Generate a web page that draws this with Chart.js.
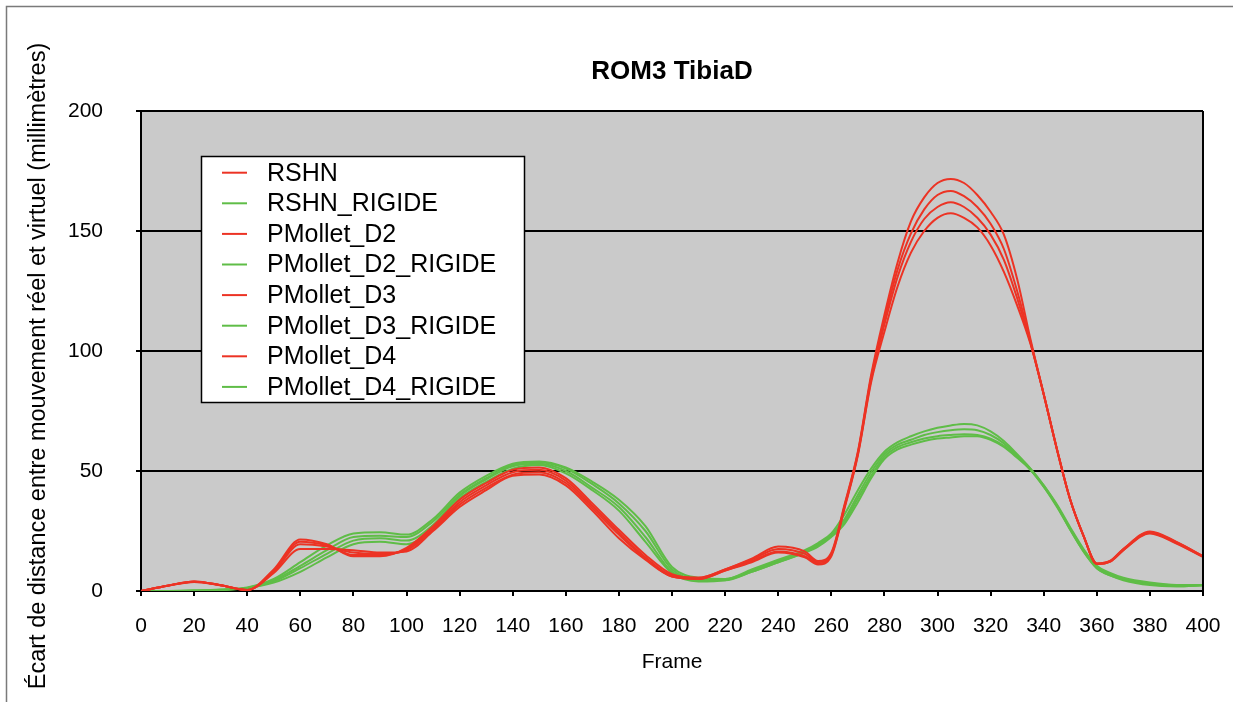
<!DOCTYPE html>
<html lang="fr">
<head>
<meta charset="utf-8">
<title>ROM3 TibiaD</title>
<script src="https://cdn.jsdelivr.net/npm/chart.js@4/dist/chart.umd.min.js"></script>
<style>
  html, body { margin:0; padding:0; background:#ffffff; }
  #romChart { display:block; }
</style>
</head>
<body>
<canvas id="romChart" width="1233" height="702"></canvas>
<script>
/* =========================================================
   DATA
========================================================= */

const frames = [
  0,10,20,30,40,50,60,70,80,90,100,110,120,130,140,150,160,170,180,190,
  200,210,220,230,240,250,255,260,265,270,275,280,285,290,295,300,305,
  310,315,320,325,330,335,340,345,350,355,360,365,370,380,390,400
];

const rshn = [
  0,2.2,4,2.4,0.4,9,21.5,19.5,14.5,14.5,18,27,38,45,50.5,51.5,47,36.5,25.5,15,
  7,5.5,9,13.5,18.5,16.5,12.5,16,36,58,90,115,137,154,164,170,171.7,
  170,165,158,148.5,130,105,82,59,38,23,11.5,12.5,17.5,24.8,20.5,14.5
];

const rshnRigide = [
  0,0,0.2,0.6,1.5,5,12,19,24,24.5,23.5,30,41,48,53,54,51.5,45.5,38,27,
  10,5.5,5,9,13,17,20,24,32,42,51,58,62,64.5,66.5,68,69,
  69.6,69,66.5,62.5,57,51,44,36,26.5,17.5,10.5,7.5,5.5,3.5,2.5,2.5
];

const d2 = [
  0,2.2,4,2.4,0.4,8.5,20.5,19,15,15,17.5,26,37,44,49.5,50.5,46,35.5,24.5,14,
  6.5,5.5,9,13,17.5,15.5,12,15.5,35.5,57.5,89,113,134,149,159,165,166.7,
  164.5,160,153,142.5,125,104,82,59,38,23,11.5,12.5,17.5,24.5,20.3,14.5
];

const d2Rigide = [
  0,0,0.2,0.5,1.3,4.5,10.5,17,22.5,23,22.5,29,40,47,52.5,53.5,51,44.5,36.5,25,
  9,5,5,8.5,12.5,16.5,19.5,23.5,30,40,49.5,57,61,63,65,66.2,67,
  67.4,67,65,61.5,56.5,51,44,35.5,26,17,10,7,5,3.2,2.3,2.5
];

const d3 = [
  0,2.2,3.9,2.4,0.4,8,19.5,18.5,16,15.5,17,25.5,36,43,48.5,49.5,45,34.5,23.5,13.5,
  6,5,8.5,12.5,16.5,14.5,11.5,15,35,57,88,111,131,145.5,155,160,162,
  160,155.5,148.5,138,122,103.5,82,59,38,23,11.2,12.2,17,24.3,20,14.3
];

const d3Rigide = [
  0,0,0.1,0.4,1.2,4,9.5,15.5,21,22,21,27.5,39.5,46.5,52,53,50,43,35,22.5,
  8,4.5,4.5,8,12,16,19,23,29,38.5,48,56,60,62,63.5,64.5,65,
  65.3,65,63.5,60.5,56,50.5,43.5,35.5,25.5,16.5,9.5,6.5,4.8,2.8,2,2.4
];

const d4 = [
  0,2.2,3.8,2.4,0.4,7.5,17.5,17.5,17,16,16.5,25,35,42,48,48.5,44,33.5,22,13,
  6,5,8.5,12,16,14,11,14.5,34.5,56.5,87,108,127,141,150,155.5,157.4,
  155.5,151.5,144,133,119,103,82,59,38,23,11.2,12.2,17,24,19.8,14.2
];

const d4Rigide = [
  0,0,0.1,0.4,1.2,3.5,8,14,19.5,20.5,19.5,26,38.5,45.5,51,52.5,49,42,33.5,20.5,
  7.5,4,4.5,8,12,16,18.5,22.5,28,37,47,55,59,61,62.5,63.5,64,
  64.5,64.5,63,60,55.5,50.5,43.5,35,25.5,16.5,9.5,6.5,4.5,2.5,2,2.4
];

const seriesNames = [
  "RSHN",
  "RSHN_RIGIDE",
  "PMollet_D2",
  "PMollet_D2_RIGIDE",
  "PMollet_D3",
  "PMollet_D3_RIGIDE",
  "PMollet_D4",
  "PMollet_D4_RIGIDE"
];

const seriesValues = [
  rshn, rshnRigide, d2, d2Rigide, d3, d3Rigide, d4, d4Rigide
];

const yTicks = [0,50,100,150,200];

/* =========================================================
   STYLE
========================================================= */

const RED = "#ec3324";
const GREEN = "#5fbd47";
const PLOT_BG = "#cacaca";
const FONT = "'Liberation Sans', Arial, Helvetica, sans-serif";

/* =========================================================
   PLUGINS
========================================================= */

// grey plot background + outer frame
const backdrop = {
  id:"backdrop",
  beforeDraw(chart){
    const { ctx, chartArea:a } = chart;
    ctx.save();
    ctx.fillStyle = "#ffffff";
    ctx.fillRect(0,0,chart.width,chart.height);

    ctx.strokeStyle = "#7a7a7a";
    ctx.lineWidth = 1.5;
    ctx.beginPath();
    ctx.moveTo(6.5,chart.height);
    ctx.lineTo(6.5,6.5);
    ctx.lineTo(chart.width,6.5);
    ctx.stroke();

    ctx.fillStyle = PLOT_BG;
    ctx.fillRect(a.left,a.top,a.right-a.left,a.bottom-a.top);
    ctx.restore();
  }
};

// right border, titles and the boxed legend
const overlay = {
  id:"overlay",
  afterDraw(chart){
    const { ctx, chartArea:a } = chart;
    ctx.save();

    ctx.strokeStyle = "#000000";
    ctx.lineWidth = 2;
    ctx.beginPath();
    ctx.moveTo(a.right,a.top);
    ctx.lineTo(a.right,a.bottom);
    ctx.stroke();

    ctx.fillStyle = "#000000";
    ctx.textAlign = "center";
    ctx.textBaseline = "middle";

    ctx.font = "bold 26px " + FONT;
    ctx.fillText("ROM3 TibiaD",(a.left+a.right)/2,72);

    ctx.font = "21px " + FONT;
    ctx.fillText("Frame",(a.left+a.right)/2,662);

    ctx.save();
    ctx.font = "23.5px " + FONT;
    ctx.translate(39,366);
    ctx.rotate(-Math.PI/2);
    ctx.fillText(
      "\u00c9cart de distance entre mouvement r\u00e9el et virtuel (millim\u00e8tres)",
      0,0
    );
    ctx.restore();

    /* LEGEND */

    const box = { x:201.5, y:156.5, w:323, h:246 };
    ctx.fillStyle = "#ffffff";
    ctx.fillRect(box.x,box.y,box.w,box.h);
    ctx.strokeStyle = "#000000";
    ctx.lineWidth = 1.5;
    ctx.strokeRect(box.x,box.y,box.w,box.h);

    ctx.font = "25px " + FONT;
    ctx.textAlign = "left";
    chart.data.datasets.forEach((ds,i)=>{
      const y = 172.7 + i*30.6;
      ctx.strokeStyle = ds.borderColor;
      ctx.lineWidth = 2;
      ctx.beginPath();
      ctx.moveTo(222,y);
      ctx.lineTo(247,y);
      ctx.stroke();
      ctx.fillStyle = "#000000";
      ctx.fillText(ds.label,267,y+1);
    });

    ctx.restore();
  }
};

/* =========================================================
   CHART
========================================================= */

const datasets =
  seriesNames.map((name,i)=>{
    const rigid = name.endsWith("_RIGIDE");
    return {
      label:name,
      data:frames.map((f,j)=>({ x:f, y:seriesValues[i][j] })),
      borderColor:rigid ? GREEN : RED,
      backgroundColor:rigid ? GREEN : RED,
      borderWidth:2,
      pointRadius:0,
      cubicInterpolationMode:"monotone",
      fill:false,
      order:rigid ? 1 : 0
    };
  });

const ctx =
  document
    .getElementById("romChart")
    .getContext("2d");

new Chart(ctx, {

  type:"line",

  data:{ datasets },

  options:{

    responsive:false,
    devicePixelRatio:1,
    animation:false,

    layout:{
      padding:{ left:0, right:30, top:111, bottom:0 }
    },

    plugins:{
      legend:{ display:false },
      title:{ display:false },
      tooltip:{ enabled:false }
    },

    scales:{

      x:{
        type:"linear",
        min:0,
        max:400,
        afterFit:(s)=>{
          s.height = 111;
          s.paddingLeft = 0;
          s.paddingRight = 0;
        },
        border:{ color:"#000000", width:2 },
        grid:{
          drawOnChartArea:false,
          color:"#000000",
          lineWidth:2,
          tickLength:5
        },
        ticks:{
          stepSize:20,
          color:"#000000",
          padding:18,
          maxRotation:0,
          font:{ family:FONT, size:21 }
        }
      },

      y:{
        min:0,
        max:200,
        afterFit:(s)=>{ s.width = 141; },
        afterBuildTicks:(s)=>{ s.ticks = yTicks.map(v=>({ value:v })); },
        border:{ color:"#000000", width:2 },
        grid:{
          color:"#000000",
          lineWidth:2,
          tickLength:5
        },
        ticks:{
          color:"#000000",
          padding:33,
          font:{ family:FONT, size:21 }
        }
      }

    }

  },

  plugins:[backdrop, overlay]

});
</script>
</body>
</html>
